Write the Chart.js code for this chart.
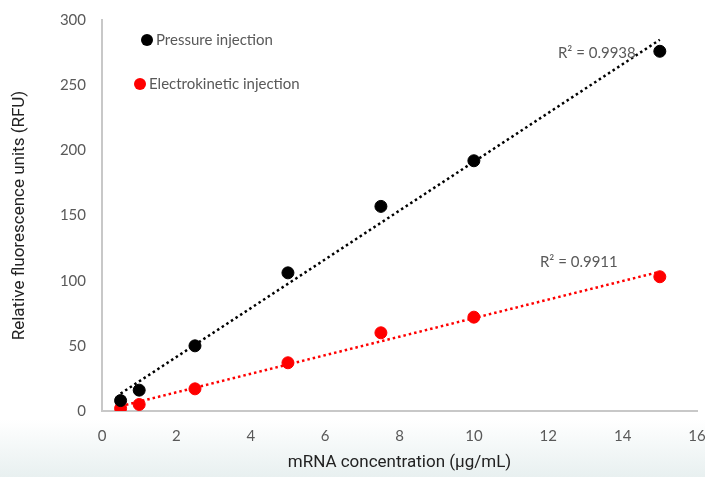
<!DOCTYPE html>
<html>
<head>
<meta charset="utf-8">
<script src="https://cdn.jsdelivr.net/npm/chart.js@4"></script>
<style>
  html, body { margin: 0; padding: 0; }
  body {
    width: 705px; height: 477px; overflow: hidden;
    background: linear-gradient(to bottom, #ffffff 0%, #ffffff 88%, #e8f0f0 100%);
  }
  #wrap { position: relative; width: 705px; height: 477px; }
</style>
</head>
<body>
<div id="wrap"><canvas id="chart" width="705" height="477"></canvas></div>
<script>
// concentrations (µg/mL)
const concentrations = [0.5, 1, 2.5, 5, 7.5, 10, 15];
// RFU values
const pressureValues = [8, 16, 50, 106, 157, 192, 276];
const electroValues = [2, 5, 17, 37, 60, 72, 103];
const seriesNames = ['Pressure injection', 'Electrokinetic injection'];
const r2Labels = ['R² = 0.9938', 'R² = 0.9911'];
const xTicks = [0, 2, 4, 6, 8, 10, 12, 14, 16];
const yTicks = [0, 50, 100, 150, 200, 250, 300];

function toPoints(xs, ys) {
  return xs.map((x, i) => ({ x: x, y: ys[i] }));
}

// least squares trend line over the data range
function trend(xs, ys) {
  const n = xs.length;
  const mx = xs.reduce((a, b) => a + b, 0) / n;
  const my = ys.reduce((a, b) => a + b, 0) / n;
  let sxy = 0, sxx = 0;
  for (let i = 0; i < n; i++) {
    sxy += (xs[i] - mx) * (ys[i] - my);
    sxx += (xs[i] - mx) * (xs[i] - mx);
  }
  const slope = sxy / sxx;
  const b = my - slope * mx;
  const x0 = xs[0], x1 = xs[n - 1];
  return [{ x: x0, y: b + slope * x0 }, { x: x1, y: b + slope * x1 }];
}

const grey = '#595959';
const tickFont = { family: 'Lato', size: 15 };

const overlay = {
  id: 'overlay',
  afterDatasetsDraw(chart) {
    const ctx = chart.ctx;
    const xs = chart.scales.x, ys = chart.scales.y;
    ctx.save();
    ctx.font = '15px Lato';
    ctx.textBaseline = 'middle';
    // legend
    const legend = [
      { color: '#000000', x: 147, y: 40 },
      { color: '#ff0000', x: 140, y: 84 }
    ];
    legend.forEach((l, i) => {
      ctx.fillStyle = l.color;
      ctx.beginPath();
      ctx.arc(l.x, l.y, 6, 0, Math.PI * 2);
      ctx.fill();
      ctx.fillStyle = grey;
      ctx.textAlign = 'left';
      ctx.fillText(seriesNames[i], l.x + 9, l.y);
    });
    // R² labels near the end of each trend line
    const ends = [chart.data.datasets[2].data[1], chart.data.datasets[3].data[1]];
    ctx.textAlign = 'center';
    ctx.fillText(r2Labels[0], xs.getPixelForValue(ends[0].x) - 63, ys.getPixelForValue(ends[0].y) + 13);
    ctx.fillText(r2Labels[1], xs.getPixelForValue(ends[1].x) - 81, ys.getPixelForValue(ends[1].y) - 10);
    ctx.restore();
  }
};

new Chart(document.getElementById('chart'), {
  type: 'scatter',
  data: {
    datasets: [
      {
        label: seriesNames[0],
        data: toPoints(concentrations, pressureValues),
        backgroundColor: '#000000', borderColor: '#000000',
        pointRadius: 6, order: 0
      },
      {
        label: seriesNames[1],
        data: toPoints(concentrations, electroValues),
        backgroundColor: '#ff0000', borderColor: '#ff0000',
        pointRadius: 6, order: 0
      },
      {
        type: 'line',
        data: trend(concentrations, pressureValues),
        borderColor: '#000000', borderWidth: 2.5, borderDash: [2.5, 3],
        pointRadius: 0, fill: false, order: 1
      },
      {
        type: 'line',
        data: trend(concentrations, electroValues),
        borderColor: '#ff0000', borderWidth: 2.5, borderDash: [2.5, 3],
        pointRadius: 0, fill: false, order: 1
      }
    ]
  },
  options: {
    responsive: false,
    animation: false,
    layout: { padding: { top: 20, left: 6, right: 8, bottom: 0 } },
    plugins: { legend: { display: false }, tooltip: { enabled: false } },
    scales: {
      x: {
        type: 'linear', min: 0, max: 16,
        afterBuildTicks: s => { s.ticks = xTicks.map(v => ({ value: v })); },
        grid: { display: false, drawTicks: false },
        border: { display: true, color: '#c8c8c8', width: 2 },
        ticks: { color: grey, font: tickFont, padding: 16 },
        title: {
          display: true, text: 'mRNA concentration (µg/mL)',
          color: '#222222', font: { family: 'Roboto', size: 17 }, padding: { top: 6 }
        },
        afterFit: s => { s.height = 66; s.paddingRight = 0; s.paddingLeft = 0; }
      },
      y: {
        min: 0, max: 300,
        afterBuildTicks: s => { s.ticks = yTicks.map(v => ({ value: v })); },
        grid: { display: false, drawTicks: false },
        border: { display: true, color: '#c8c8c8', width: 2 },
        ticks: { color: grey, font: tickFont, padding: 16 },
        title: {
          display: true, text: 'Relative fluorescence units (RFU)',
          color: '#222222', font: { family: 'Roboto', size: 17 }, padding: { bottom: 0 }
        },
        afterFit: s => { s.width = 96; s.paddingTop = 0; s.paddingBottom = 0; }
      }
    }
  },
  plugins: [overlay]
});
</script>
</body>
</html>
